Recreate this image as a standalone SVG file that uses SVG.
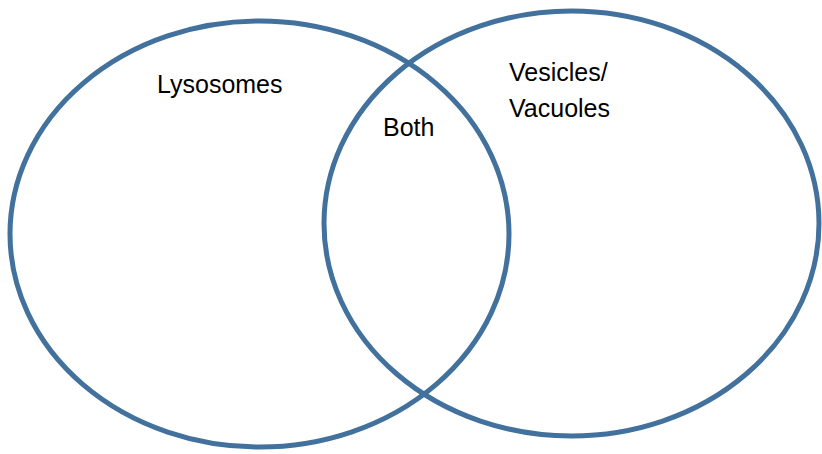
<svg xmlns="http://www.w3.org/2000/svg" width="822" height="454" viewBox="0 0 822 454">
<style>
.c{fill:none;stroke:#41719C;stroke-width:5}
.t{font-family:"Liberation Sans",Arial,sans-serif;font-size:25px;fill:#000}
</style>
<rect width="822" height="454" fill="#fff"/>
<g id="lysosomes">
<ellipse class="c" cx="259.5" cy="234" rx="249.5" ry="213"/>
<text class="t" x="157" y="93">Lysosomes</text>
</g>
<g id="vesicles">
<ellipse class="c" cx="571.5" cy="223.5" rx="247.5" ry="212.5"/>
<text class="t" x="509" y="81">Vesicles/</text>
<text class="t" x="509" y="117">Vacuoles</text>
</g>
<g id="both">
<text class="t" x="383" y="136">Both</text>
</g>
<g id="connectors"/>
</svg>
